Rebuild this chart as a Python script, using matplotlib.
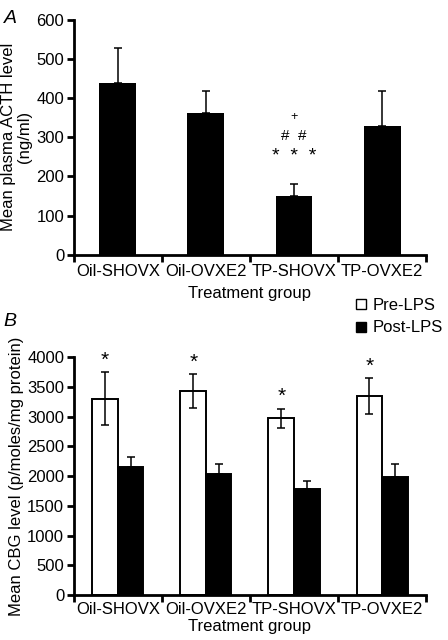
import matplotlib
matplotlib.use("Agg")
import matplotlib.pyplot as plt
import numpy as np
from matplotlib.lines import Line2D

plt.rcParams['font.family'] = ['Liberation Sans', 'DejaVu Sans']

groups = ["Oil-SHOVX", "Oil-OVXE2", "TP-SHOVX", "TP-OVXE2"]

# Panel A: ACTH
acth_mean = [438, 362, 149, 329]
acth_err = [89, 55, 31, 88]

# Panel B: CBG
cbg_pre = [3300, 3429, 2975, 3350]
cbg_pre_err = [445, 280, 160, 300]
cbg_post = [2146, 2028, 1787, 1994]
cbg_post_err = [179, 168, 140, 202]
pre_sig = ["*", "*", "*", "*"]

fs = 12
cap = 3.2
elw = 1.1
fig = plt.figure(figsize=(4.48, 6.4), dpi=100)

def style(ax, ymax, step, tpad, lpad):
    for s in ["top", "right"]:
        ax.spines[s].set_visible(False)
    for s in ["left", "bottom"]:
        ax.spines[s].set_linewidth(2)
    n = len(groups)
    ax.set_xlim(0, n)
    ax.set_ylim(0, ymax)
    ax.set_yticks(np.arange(0, ymax + 1, step))
    ax.set_xticks(np.arange(0, n + 1))
    ax.set_xticklabels([])
    ax.set_xticks(np.arange(n) + 0.5, minor=True)
    ax.set_xticklabels(groups, minor=True, fontsize=fs)
    ax.tick_params(axis="x", which="minor", length=0, pad=tpad)
    ax.tick_params(axis="x", which="major", length=5, width=2, direction="out")
    ax.tick_params(axis="y", length=5, width=2, direction="out", labelsize=fs, pad=2)
    ax.set_xlabel("Treatment group", fontsize=fs, labelpad=lpad)

# Panel A
axA = fig.add_axes([0.165, 0.602, 0.786, 0.367])
x = np.arange(len(groups)) + 0.5
axA.bar(x, acth_mean, width=0.42, color="black", zorder=2)
axA.errorbar(x, acth_mean, yerr=[np.zeros(4), acth_err], fmt="none",
             ecolor="black", elinewidth=elw, capsize=cap, capthick=elw, zorder=1)
style(axA, 600, 100, 7, 5)
axA.set_ylabel("Mean plasma ACTH level\n(ng/ml)", fontsize=fs, labelpad=3, linespacing=1.1)
axA.text(x[2], 250, "*  *  *", ha="center", va="center", fontsize=fs + 2)
axA.text(x[2], 302, "#  #", ha="center", va="center", fontsize=fs - 1)
axA.text(x[2], 351, "+", ha="center", va="center", fontsize=fs - 3)
fig.text(0.008, 0.985, "A", fontsize=fs + 2, style="italic", ha="left", va="top")

# Panel B
axB = fig.add_axes([0.165, 0.070, 0.786, 0.372])
w = 0.29
axB.bar(x - w / 2, cbg_pre, width=w, color="white", edgecolor="black", linewidth=1.4, zorder=2)
axB.bar(x + w / 2, cbg_post, width=w, color="black", edgecolor="black", linewidth=1.4, zorder=2)
axB.errorbar(x - w / 2, cbg_pre, yerr=cbg_pre_err, fmt="none", ecolor="black",
             elinewidth=elw, capsize=cap, capthick=elw, zorder=3)
axB.errorbar(x + w / 2, cbg_post, yerr=[np.zeros(4), cbg_post_err], fmt="none", ecolor="black",
             elinewidth=elw, capsize=cap, capthick=elw, zorder=1)
for xi, m, e, s in zip(x, cbg_pre, cbg_pre_err, pre_sig):
    axB.text(xi - w / 2, m + e + 40, s, ha="center", va="bottom", fontsize=fs + 3)
style(axB, 4000, 500, 5, 1)
axB.set_ylabel("Mean CBG level (p/moles/mg protein)", fontsize=fs, labelpad=2)
fig.text(0.008, 0.497, "B", fontsize=fs + 2, style="italic", ha="left", va="center")

handles = [Line2D([], [], marker="s", linestyle="none", markerfacecolor="white",
                  markeredgecolor="black", markersize=7, markeredgewidth=1),
           Line2D([], [], marker="s", linestyle="none", markerfacecolor="black",
                  markeredgecolor="black", markersize=7)]
fig.legend(handles, ["Pre-LPS", "Post-LPS"], loc="upper right",
           bbox_to_anchor=(1.01, 0.55), frameon=False, fontsize=fs,
           handlelength=0.6, handletextpad=0.4, labelspacing=0.45, borderpad=0.1)

fig.savefig("out.png", dpi=100)
